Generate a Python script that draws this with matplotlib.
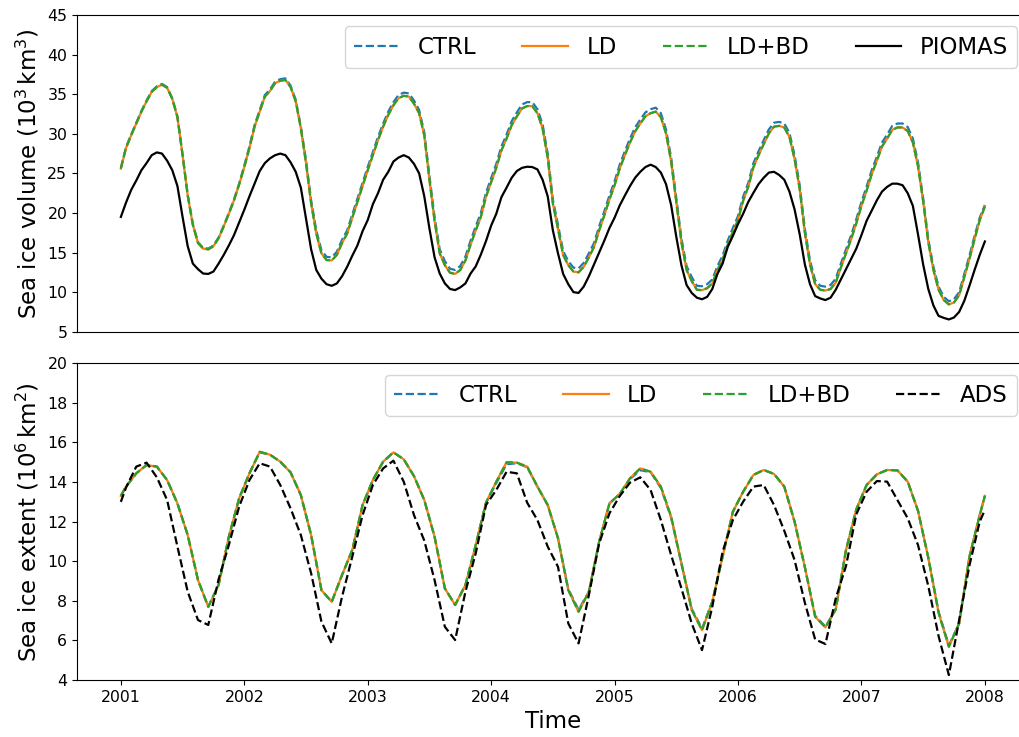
import numpy as np
import matplotlib
matplotlib.use("Agg")
import matplotlib.pyplot as plt

# half-monthly samples for sea ice volume, 10^3 km^3
vol_time = 2001 + np.arange(169) / 24

ld_vol = [25.6, 28.2, 29.8, 31.3, 32.8, 34.1, 35.3, 35.9, 36.2, 35.8,
          34.4, 32.1, 27.3, 22.2, 18.5, 16.2, 15.5, 15.4, 15.8, 16.8,
          18.3, 19.9, 21.6, 23.6, 25.8, 28.2, 30.9, 32.8, 34.7, 35.4,
          36.4, 36.7, 36.8, 35.9, 34.1, 30.7, 26.3, 21.2, 17.4, 14.9,
          14.05, 14.0, 14.7, 16.2, 17.4, 19.4, 21.4, 23.4, 25.4, 27.3,
          29.2, 30.9, 32.4, 33.6, 34.5, 34.8, 34.7, 33.8, 32.6, 29.8,
          24.2, 19.0, 14.9, 13.4, 12.45, 12.3, 12.8, 14.0, 16.0, 17.8,
          19.5, 22.05, 23.9, 25.7, 27.9, 29.4, 31.1, 32.2, 33.2, 33.5,
          33.5, 32.6, 30.7, 27.0, 21.2, 18.0, 14.7, 13.4, 12.6, 12.5,
          13.2, 14.4, 15.7, 17.8, 19.7, 21.7, 23.5, 25.6, 27.3, 28.9,
          30.3, 31.3, 32.2, 32.6, 32.8, 32.1, 30.05, 26.5, 21.4, 16.3,
          12.8, 11.4, 10.3, 10.25, 10.5, 11.1, 12.8, 14.1, 16.0, 17.6,
          19.1, 21.55, 23.3, 25.8, 27.3, 28.7, 30.05, 30.9, 31.0, 30.8,
          29.6, 26.8, 23.0, 17.5, 13.5, 11.0, 10.3, 10.2, 10.4, 11.2,
          13.1, 14.9, 16.7, 18.7, 20.9, 22.8, 24.9, 26.6, 28.4, 29.4,
          30.5, 30.8, 30.8, 30.35, 28.9, 25.9, 21.5, 16.3, 12.8, 10.3,
          9.0, 8.45, 8.7, 9.6, 11.9, 14.2, 16.7, 19.1, 20.8]
ldbd_vol = [25.6, 28.2, 29.8, 31.3, 32.8, 34.1, 35.3, 35.9, 36.2, 35.8,
            34.4, 32.1, 27.3, 22.2, 18.5, 16.2, 15.5, 15.4, 15.8, 16.8,
            18.3, 19.9, 21.6, 23.6, 25.8, 28.2, 30.9, 32.8, 34.7, 35.4,
            36.4, 36.7, 36.8, 35.9, 34.1, 30.7, 26.3, 21.2, 17.4, 14.9,
            14.05, 14.0, 14.7, 16.2, 17.4, 19.4, 21.4, 23.4, 25.4, 27.3,
            29.2, 30.9, 32.4, 33.6, 34.5, 34.8, 34.7, 33.8, 32.6, 29.8,
            24.2, 19.0, 14.9, 13.4, 12.45, 12.3, 12.8, 14.0, 16.0, 17.8,
            19.5, 22.05, 23.9, 25.7, 27.9, 29.4, 31.1, 32.2, 33.2, 33.5,
            33.5, 32.6, 30.7, 27.0, 21.2, 18.0, 14.7, 13.4, 12.6, 12.5,
            13.2, 14.4, 15.7, 17.8, 19.7, 21.7, 23.5, 25.6, 27.3, 28.9,
            30.3, 31.3, 32.2, 32.6, 32.8, 32.1, 30.05, 26.5, 21.4, 16.3,
            12.8, 11.4, 10.3, 10.25, 10.5, 11.1, 12.8, 14.1, 16.0, 17.6,
            19.1, 21.55, 23.3, 25.8, 27.3, 28.7, 30.05, 30.9, 31.0, 30.8,
            29.6, 26.8, 23.0, 17.5, 13.5, 11.0, 10.3, 10.2, 10.4, 11.2,
            13.1, 14.9, 16.7, 18.7, 20.9, 22.8, 24.9, 26.6, 28.4, 29.4,
            30.5, 30.8, 30.8, 30.35, 28.9, 25.9, 21.5, 16.3, 12.8, 10.3,
            9.0, 8.45, 8.7, 9.6, 11.9, 14.2, 16.7, 19.1, 20.8]
ctrl_vol = [25.7, 28.3, 29.9, 31.4, 32.9, 34.2, 35.4, 36.0, 36.3, 35.9,
            34.5, 32.2, 27.4, 22.3, 18.6, 16.3, 15.6, 15.5, 15.9, 16.9,
            18.4, 20.0, 21.7, 23.7, 26.0, 28.4, 31.1, 33.0, 34.9, 35.6,
            36.6, 36.9, 37.0, 36.1, 34.3, 30.9, 26.7, 21.6, 17.8, 15.3,
            14.45, 14.4, 15.1, 16.6, 17.8, 19.8, 21.8, 23.8, 25.8, 27.7,
            29.6, 31.3, 32.8, 34.0, 34.9, 35.2, 35.1, 34.2, 33.0, 30.2,
            24.7, 19.5, 15.4, 13.9, 12.95, 12.8, 13.3, 14.5, 16.5, 18.3,
            20.0, 22.55, 24.4, 26.2, 28.4, 29.9, 31.6, 32.7, 33.7, 34.0,
            34.0, 33.1, 31.2, 27.5, 21.7, 18.5, 15.2, 13.9, 13.1, 13.0,
            13.7, 14.9, 16.2, 18.3, 20.2, 22.2, 24.0, 26.1, 27.8, 29.4,
            30.8, 31.8, 32.7, 33.1, 33.3, 32.6, 30.55, 27.0, 21.9, 16.8,
            13.3, 11.9, 10.8, 10.75, 11.0, 11.6, 13.3, 14.6, 16.5, 18.1,
            19.6, 22.05, 23.8, 26.3, 27.8, 29.2, 30.55, 31.4, 31.5, 31.3,
            30.1, 27.3, 23.5, 18.0, 14.0, 11.5, 10.8, 10.7, 10.9, 11.7,
            13.6, 15.4, 17.2, 19.2, 21.4, 23.3, 25.4, 27.1, 28.9, 29.9,
            31.0, 31.3, 31.3, 30.85, 29.4, 26.4, 21.9, 16.7, 13.2, 10.7,
            9.4, 8.85, 9.1, 10.0, 12.3, 14.6, 17.1, 19.4, 21.0]
piomas_vol = [19.5, 21.3, 22.9, 24.1, 25.4, 26.3, 27.3, 27.65, 27.5, 26.6,
              25.4, 23.4, 19.5, 15.8, 13.6, 12.9, 12.35, 12.3, 12.6, 13.6,
              14.7, 15.9, 17.2, 18.8, 20.4, 22.1, 23.7, 25.3, 26.3, 26.9,
              27.3, 27.5, 27.3, 26.4, 25.2, 23.2, 19.3, 15.4, 12.8, 11.7,
              11.0, 10.8, 11.1, 12.0, 13.2, 14.6, 15.9, 17.7, 19.1, 21.1,
              22.5, 24.2, 25.2, 26.5, 27.0, 27.3, 27.0, 26.2, 25.0, 22.1,
              18.05, 14.4, 12.35, 11.1, 10.4, 10.26, 10.6, 11.1, 12.35, 13.25,
              14.75, 16.45, 18.4, 19.9, 22.0, 23.2, 24.45, 25.3, 25.7, 25.84,
              25.8, 25.5, 24.2, 22.1, 17.8, 14.9, 12.3, 11.0, 10.0, 9.9,
              10.7, 12.0, 13.5, 15.0, 16.5, 18.1, 19.4, 20.95, 22.2, 23.4,
              24.45, 25.2, 25.8, 26.1, 25.8, 25.1, 23.65, 21.0, 17.0, 13.4,
              10.9, 9.9, 9.3, 9.1, 9.4, 10.4, 12.3, 13.6, 15.7, 17.1,
              18.6, 19.9, 21.4, 22.55, 23.65, 24.45, 25.1, 25.2, 24.8, 24.2,
              22.7, 20.45, 17.3, 13.5, 11.0, 9.5, 9.2, 9.0, 9.3, 10.3,
              11.6, 12.9, 14.2, 15.5, 17.2, 19.0, 20.3, 21.6, 22.7, 23.3,
              23.7, 23.7, 23.5, 22.5, 20.9, 17.3, 13.5, 10.4, 8.3, 7.0,
              6.75, 6.55, 6.8, 7.5, 8.9, 10.8, 12.8, 14.7, 16.4]

# mid-month samples (plus both ends) for sea ice extent, 10^6 km^2
ext_time = np.concatenate([[2001.0], 2001 + (np.arange(84) + 0.5) / 12, [2008.0]])

ld_ext = [13.3,
          13.77, 14.44, 14.86, 14.78, 14.1, 12.92, 11.32, 9.05, 7.7, 8.8, 11.24, 13.18,
          14.44, 15.53, 15.38, 15.03, 14.49, 13.34, 11.32, 8.54, 7.95, 9.3, 10.57, 12.84,
          14.1, 15.03, 15.5, 15.15, 14.3, 13.09, 11.24, 8.63, 7.79, 8.8, 10.82, 12.96,
          14.02, 15.0, 14.98, 14.78, 13.77, 12.84, 11.16, 8.54, 7.45, 8.46, 10.99, 12.92,
          13.4, 14.19, 14.69, 14.52, 13.77, 12.25, 9.89, 7.54, 6.52, 7.96, 10.23, 12.5,
          13.51, 14.36, 14.61, 14.41, 13.77, 12.0, 9.7, 7.2, 6.66, 7.57, 10.57, 12.62,
          13.85, 14.39, 14.61, 14.59, 14.02, 12.55, 10.18, 7.4, 5.68, 6.86, 10.23, 12.33,
          13.3]
ctrl_ext = [13.3,
            13.77, 14.44, 14.86, 14.78, 14.1, 12.92, 11.32, 9.05, 7.7, 8.8, 11.24, 13.18,
            14.44, 15.5, 15.38, 15.03, 14.49, 13.34, 11.32, 8.54, 7.95, 9.3, 10.57, 12.84,
            14.1, 15.03, 15.5, 15.15, 14.3, 13.09, 11.24, 8.63, 7.79, 8.8, 10.82, 12.96,
            13.95, 14.9, 14.95, 14.75, 13.77, 12.84, 11.16, 8.6, 7.55, 8.46, 10.99, 12.92,
            13.4, 14.15, 14.6, 14.5, 13.7, 12.2, 9.89, 7.6, 6.6, 7.96, 10.23, 12.5,
            13.51, 14.36, 14.61, 14.41, 13.77, 12.0, 9.7, 7.25, 6.7, 7.57, 10.57, 12.62,
            13.85, 14.39, 14.61, 14.59, 14.02, 12.55, 10.18, 7.45, 5.75, 6.86, 10.23, 12.33,
            13.3]
ldbd_ext = [13.3,
            13.77, 14.44, 14.86, 14.78, 14.1, 12.92, 11.32, 9.05, 7.7, 8.8, 11.24, 13.18,
            14.44, 15.53, 15.38, 15.03, 14.49, 13.34, 11.32, 8.54, 7.95, 9.3, 10.57, 12.84,
            14.1, 15.03, 15.5, 15.15, 14.3, 13.09, 11.24, 8.63, 7.79, 8.8, 10.82, 12.96,
            14.02, 15.0, 14.98, 14.78, 13.77, 12.84, 11.16, 8.54, 7.45, 8.46, 10.99, 12.92,
            13.4, 14.19, 14.69, 14.52, 13.77, 12.25, 9.89, 7.54, 6.52, 7.96, 10.23, 12.5,
            13.51, 14.36, 14.61, 14.41, 13.77, 12.0, 9.7, 7.2, 6.66, 7.57, 10.57, 12.62,
            13.85, 14.39, 14.61, 14.59, 14.02, 12.55, 10.18, 7.4, 5.68, 6.86, 10.23, 12.33,
            13.3]
ads_ext = [13.0,
           13.72, 14.78, 14.98, 14.24, 13.09, 10.74, 8.46, 7.03, 6.78, 9.08, 10.82, 12.76,
           14.1, 14.95, 14.78, 13.85, 12.67, 11.32, 9.39, 6.95, 5.85, 8.2, 10.23, 12.33,
           13.85, 14.69, 15.08, 14.02, 12.33, 11.04, 9.05, 6.69, 6.02, 8.46, 10.4, 12.84,
           13.6, 14.52, 14.44, 12.96, 12.08, 10.74, 9.72, 6.86, 5.85, 8.29, 10.9, 12.42,
           13.29, 13.97, 14.24, 13.6, 12.08, 10.31, 8.63, 6.86, 5.51, 7.7, 10.48, 12.08,
           13.01, 13.77, 13.85, 12.84, 11.54, 10.06, 7.9, 6.05, 5.82, 8.12, 9.76, 12.37,
           13.51, 14.05, 14.02, 13.09, 12.17, 10.82, 8.75, 6.22, 4.25, 7.03, 9.79, 12.0,
           12.59]

years = [2001, 2002, 2003, 2004, 2005, 2006, 2007, 2008]

fig = plt.figure(figsize=(10.19, 7.37), dpi=100)
ax1 = fig.add_axes([0.0756, 0.5499, 0.9339, 0.4297])
ax2 = fig.add_axes([0.0756, 0.0773, 0.9339, 0.4298], sharex=ax1)

lw = 1.6
big = 16.5
small = 11.3

ax1.plot(vol_time, ctrl_vol, '--', color='C0', lw=lw, label='CTRL')
ax1.plot(vol_time, ld_vol, '-', color='C1', lw=lw, label='LD')
ax1.plot(vol_time, ldbd_vol, '--', color='C2', lw=lw, label='LD+BD')
ax1.plot(vol_time, piomas_vol, '-', color='black', lw=lw, label='PIOMAS')
ax1.set_ylim(5, 45)
ax1.set_yticks(range(5, 46, 5))
ax1.set_ylabel(r'Sea ice volume ($10^3\,\mathrm{km}^3$)', fontsize=big)
ax1.tick_params(axis='x', bottom=False, labelbottom=False)
ax1.tick_params(axis='y', labelsize=small)
ax1.legend(ncol=4, loc='upper right', fontsize=big)

ax2.plot(ext_time, ctrl_ext, '--', color='C0', lw=lw, label='CTRL')
ax2.plot(ext_time, ld_ext, '-', color='C1', lw=lw, label='LD')
ax2.plot(ext_time, ldbd_ext, '--', color='C2', lw=lw, label='LD+BD')
ax2.plot(ext_time, ads_ext, '--', color='black', lw=lw, label='ADS')
ax2.set_ylim(4, 20)
ax2.set_yticks(range(4, 21, 2))
ax2.set_ylabel(r'Sea ice extent ($10^6\,\mathrm{km}^2$)', fontsize=big)
ax2.set_xlabel('Time', fontsize=big)
ax2.set_xticks(years)
ax2.tick_params(labelsize=small)
ax2.legend(ncol=4, loc='upper right', fontsize=big)

ax1.set_xlim(2000.645, 2008.355)

fig.savefig('out.png', dpi=100)
